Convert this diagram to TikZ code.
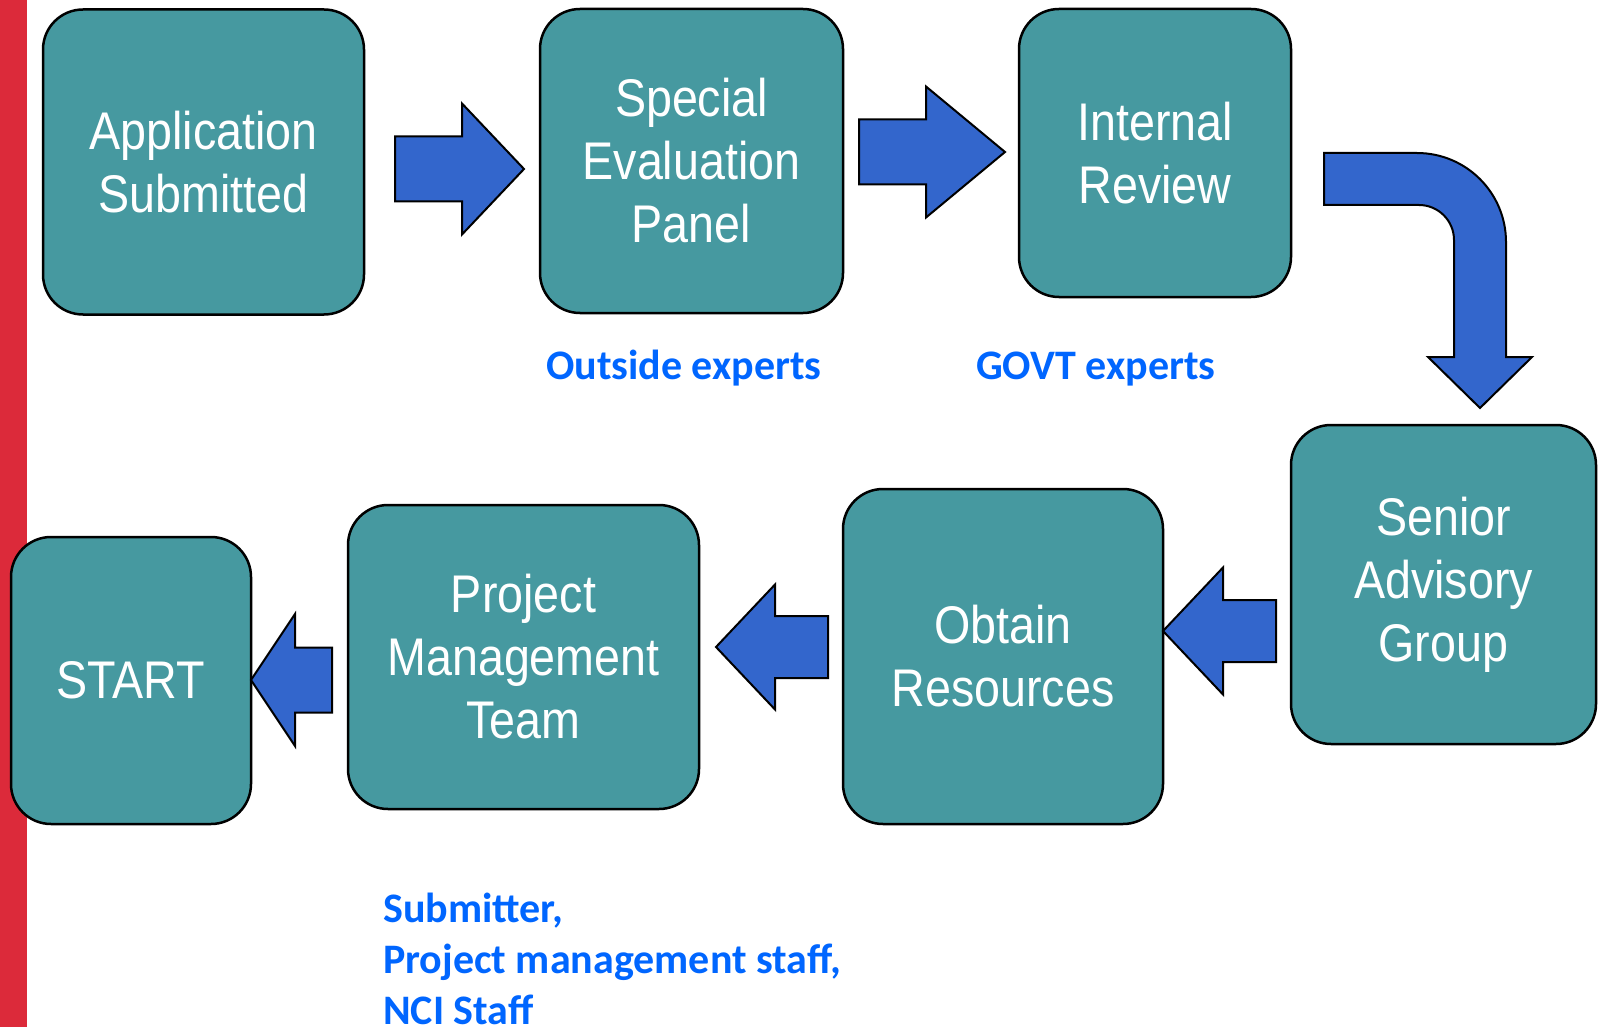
\documentclass[tikz,border=0pt]{standalone}
\usepackage{fontspec}
\newfontfamily\boxfont[FakeStretch=0.88]{Liberation Sans}
\newfontfamily\labelfont{Carlito}
\definecolor{tealbox}{RGB}{70,153,160}
\definecolor{arrowblue}{RGB}{51,102,204}
\definecolor{labelblue}{RGB}{0,102,255}
\definecolor{redbar}{RGB}{220,42,58}
\tikzset{
  stage/.style={draw=black,line width=2.5pt,fill=tealbox,rounded corners=40pt,
    text=white,align=center,inner sep=0pt,
    font=\boxfont\fontsize{53}{63}\selectfont},
  barrow/.style={draw=black,line width=2pt,fill=arrowblue,line join=miter},
  who/.style={text=labelblue,align=left,inner sep=0pt,
    font=\labelfont\bfseries\fontsize{42}{51}\selectfont}
}
% block arrow: tail x, head base x, tip x, y, half shaft, half head
\newcommand{\blockarr}[6]{%
  \draw[barrow] (#1,#4-#5) -- (#2,#4-#5) -- (#2,#4-#6) -- (#3,#4)
    -- (#2,#4+#6) -- (#2,#4+#5) -- (#1,#4+#5) -- cycle;}
\begin{document}
\begin{tikzpicture}[x=1pt,y=-1pt]
  \useasboundingbox (0,0) rectangle (1603,1027);
  \fill[white] (0,0) rectangle (1603,1027);
  \fill[redbar] (0,0) rectangle (27,1027);

  % top row
  \node[stage,minimum width=321pt,minimum height=305pt] (appsub) at (203.5,162) {Application\\Submitted};
  \node[stage,minimum width=303pt,minimum height=304pt] (sep) at (691.5,161) {Special\\Evaluation\\Panel};
  \node[stage,minimum width=272pt,minimum height=288pt] (intrev) at (1155,153) {Internal\\Review};

  % bottom row
  \node[stage,minimum width=305pt,minimum height=319pt] (sag) at (1443.5,584.5) {Senior\\Advisory\\Group};
  \node[stage,minimum width=320pt,minimum height=335pt] (obtres) at (1003,656.5) {Obtain\\Resources};
  \node[stage,minimum width=351pt,minimum height=304pt] (pmt) at (523.5,657) {Project\\Management\\Team};
  \node[stage,minimum width=240pt,minimum height=287pt] (start) at (131,680.5) {START};

  % arrows
  \blockarr{395}{462}{524}{169}{32.5}{65.5}
  \blockarr{859}{926}{1005}{152}{32.5}{65.5}
  \draw[barrow] (1324,153) [rounded corners=89pt] -- (1506,153) [sharp corners]
    -- (1506,357) -- (1532,357) -- (1480,408) -- (1428,357) -- (1454,357)
    [rounded corners=35pt] -- (1454,205) [sharp corners] -- (1324,205) -- cycle;
  \blockarr{1276}{1223}{1163}{631}{31}{63.5}
  \blockarr{828}{775}{716}{647}{31}{62.5}
  \blockarr{332}{295}{251}{680}{32.5}{66}

  % who takes part
  \node[who,anchor=base west] (outexp) at (546,379) {Outside experts};
  \node[who,anchor=base west] (govexp) at (976,379) {GOVT experts};
  \node[who,anchor=base west] (pmtstaff) at (383,1024) {Submitter,\\Project management staff,\\NCI Staff};
\end{tikzpicture}
\end{document}
